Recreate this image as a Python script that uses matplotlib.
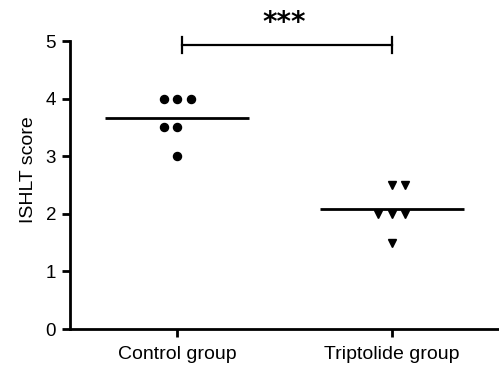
import matplotlib
matplotlib.use("Agg")
import matplotlib.pyplot as plt

plt.rcParams['font.family'] = ['Liberation Sans', 'DejaVu Sans']

categories = ["Control group", "Triptolide group"]
control_scores = [4.0, 4.0, 4.0, 3.5, 3.5, 3.0]
triptolide_scores = [2.5, 2.5, 2.0, 2.0, 2.0, 1.5]
# horizontal jitter slots (in marker-spacing units), layout only
control_slots = [-1, 0, 1, -1, 0, 0]
triptolide_slots = [0, 1, -1, 0, 1, 0]
yticks = [0, 1, 2, 3, 4, 5]
significance = "***"

fig = plt.figure(figsize=(4.99, 3.66), dpi=100)
ax = fig.add_axes([70/499, 37/366, 429/499, 319/366])

spacing = 0.063
half = 0.335
groups = [(control_scores, control_slots, 'o', 5.8),
          (triptolide_scores, triptolide_slots, 'v', 5.6)]
for i, (vals, slots, mk, ms) in enumerate(groups):
    xs = [i + s * spacing for s in slots]
    ax.plot(xs, vals, linestyle='none', marker=mk, color='black',
            markersize=ms, clip_on=False, zorder=3)
    mean = sum(vals) / len(vals)
    ax.plot([i - half, i + half], [mean, mean], color='black', lw=2.0,
            solid_capstyle='butt', zorder=2)

# significance bracket
yb = 4.93
ax.plot([0.023, 1.0], [yb, yb], color='black', lw=1.6, clip_on=False)
ax.plot([0.023, 0.023], [yb - 0.14, yb + 0.14], color='black', lw=1.6, clip_on=False)
ax.plot([1.0, 1.0], [yb - 0.14, yb + 0.14], color='black', lw=1.6, clip_on=False)
ax.text(0.5, 5.31, significance, ha='center', va='center', fontsize=20,
        fontweight='bold', family='DejaVu Sans')

ax.set_xlim(-0.5, 1.5)
ax.set_ylim(0, 5.54)
ax.set_xticks([0, 1])
ax.set_xticklabels(categories, fontsize=14)
ax.set_yticks(yticks)
ax.set_yticklabels([str(t) for t in yticks], fontsize=13.5)
ax.set_ylabel("ISHLT score", fontsize=14, labelpad=6)

for s in ['top', 'right']:
    ax.spines[s].set_visible(False)
for s in ['left', 'bottom']:
    ax.spines[s].set_linewidth(2.0)
ax.spines['left'].set_bounds(0, 5)
ax.tick_params(axis='both', width=2.0, length=6, direction='out', pad=4)
ax.tick_params(axis='x', pad=6)

fig.savefig("out.png", dpi=100)
